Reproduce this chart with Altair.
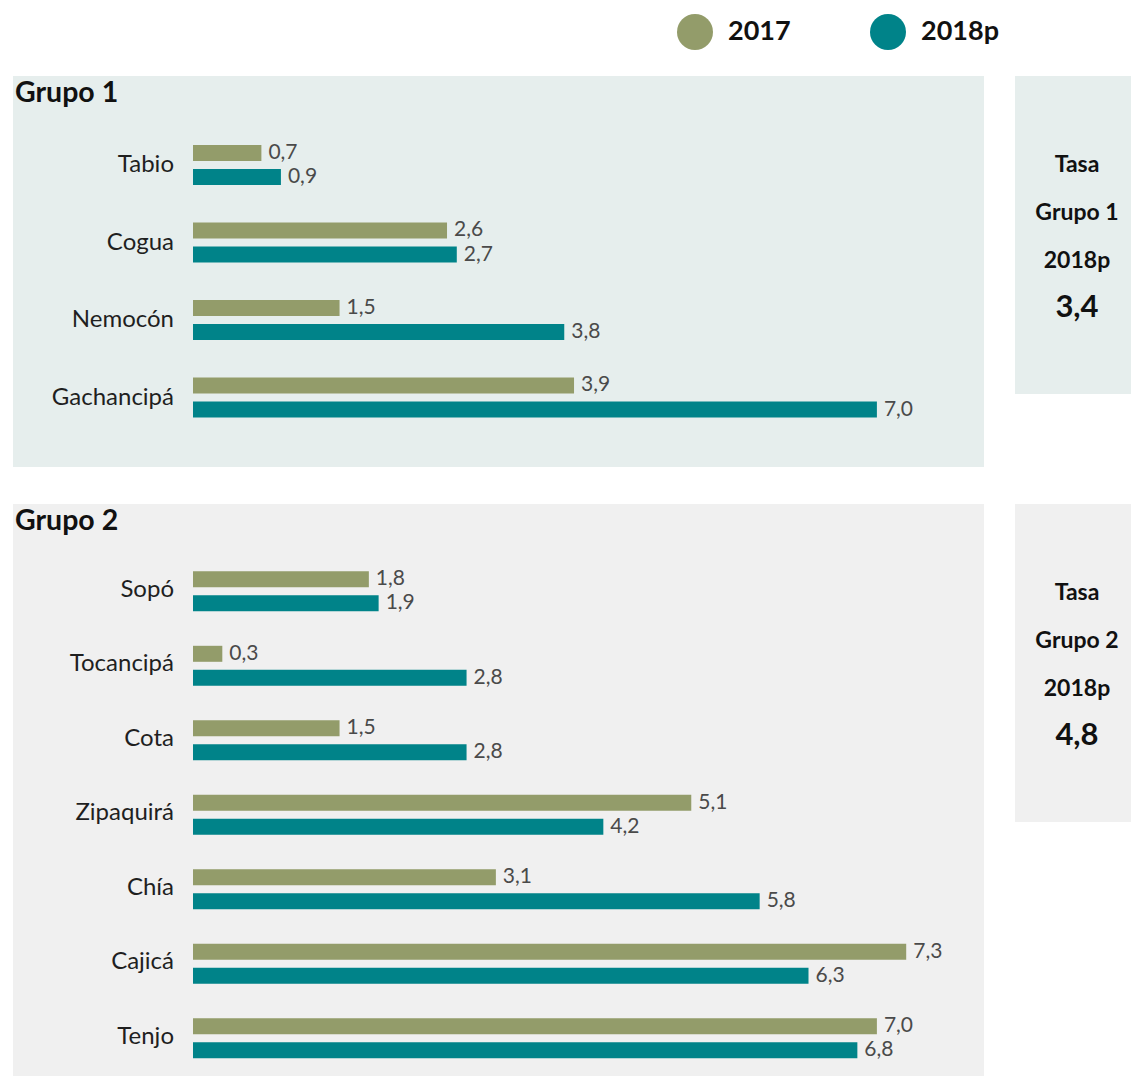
import altair as alt
import pandas as pd

FONT = "Lato"

years = ["2017", "2018p"]
year_colors = ["#939c6a", "#008389"]

g1_munis = ["Tabio", "Cogua", "Nemocón", "Gachancipá"]
g1_2017 = [0.7, 2.6, 1.5, 3.9]
g1_2018 = [0.9, 2.7, 3.8, 7.0]

g2_munis = ["Sopó", "Tocancipá", "Cota", "Zipaquirá", "Chía", "Cajicá", "Tenjo"]
g2_2017 = [1.8, 0.3, 1.5, 5.1, 3.1, 7.3, 7.0]
g2_2018 = [1.9, 2.8, 2.8, 4.2, 5.8, 6.3, 6.8]

group_titles = ["Grupo 1", "Grupo 2"]
tasa_2018 = [3.4, 4.8]


def fmt(v):
    return f"{v:.1f}".replace(".", ",")


def panel(munis, v17, v18, title, bg, height, y_range, off_pad):
    rows = []
    for m, a, b in zip(munis, v17, v18):
        rows.append({"Municipio": m, "Año": "2017", "Valor": a, "Etiqueta": fmt(a)})
        rows.append({"Municipio": m, "Año": "2018p", "Valor": b, "Etiqueta": fmt(b)})
    df = pd.DataFrame(rows)

    x = alt.X("Valor:Q", scale=alt.Scale(domain=[0, 8], range=[180, 180 + 8 * 97.7], nice=False), axis=None)
    y = alt.Y("Municipio:N", sort=munis,
              scale=alt.Scale(domain=munis, range=y_range, paddingInner=0, paddingOuter=0), axis=None)
    yoff = alt.YOffset("Año:N", sort=years,
                       scale=alt.Scale(domain=years, paddingInner=1 / 3, paddingOuter=off_pad))

    base = alt.Chart(df)
    bars = base.mark_bar().encode(
        x=x, y=y, yOffset=yoff,
        color=alt.Color("Año:N", scale=alt.Scale(domain=years, range=year_colors),
                        legend=alt.Legend(title=None, orient="none", legendX=664, legendY=-62,
                                          direction="horizontal", symbolType="circle",
                                          symbolSize=1296, symbolStrokeWidth=0, symbolOpacity=1,
                                          labelFont=FONT, labelFontSize=27, labelFontWeight="bold",
                                          labelColor="#111111", labelOffset=15, columnPadding=79,
                                          padding=0)),
    )
    labels = base.mark_text(align="left", baseline="middle", dx=7, font=FONT, fontSize=21,
                            color="#4a4a4a").encode(x=x, y=y, yOffset=yoff, text="Etiqueta:N")
    cats = alt.Chart(pd.DataFrame({"Municipio": munis})).mark_text(
        align="right", baseline="middle", font=FONT, fontSize=24, color="#1f1f1f"
    ).encode(y=y, x=alt.value(161), text="Municipio:N")
    ttl = alt.Chart(pd.DataFrame({"t": [title]})).mark_text(
        align="left", baseline="alphabetic", font=FONT, fontSize=28.5, fontWeight="bold", color="#111111"
    ).encode(text="t:N", x=alt.value(2), y=alt.value(26))
    return alt.layer(bars, labels, cats, ttl).properties(
        width=971, height=height, view=alt.ViewBackground(fill=bg))


def box(title, tasa, bg):
    df = pd.DataFrame({"l1": ["Tasa"], "l2": [title], "l3": ["2018p"], "v": [fmt(tasa)]})
    base = alt.Chart(df)
    common = dict(align="center", baseline="alphabetic", font=FONT, fontWeight="bold", color="#111111")
    layers = [
        base.mark_text(fontSize=23, **common).encode(text="l1:N", x=alt.value(62), y=alt.value(96)),
        base.mark_text(fontSize=23, **common).encode(text="l2:N", x=alt.value(62), y=alt.value(144)),
        base.mark_text(fontSize=23, **common).encode(text="l3:N", x=alt.value(62), y=alt.value(192)),
        base.mark_text(fontSize=31, **common).encode(text="v:N", x=alt.value(62), y=alt.value(241)),
    ]
    return alt.layer(*layers).properties(width=116, height=318, view=alt.ViewBackground(fill=bg))


BG1 = "#e6eeed"
BG2 = "#f0f0f0"

p1 = panel(g1_munis, g1_2017, g1_2018, group_titles[0], BG1, 391, [50.25, 360.25], 0.781)
p2 = panel(g2_munis, g2_2017, g2_2018, group_titles[1], BG2, 572, [48.55, 570.05], 0.719)
b1 = box(group_titles[0], tasa_2018[0], BG1)
b2 = box(group_titles[1], tasa_2018[1], BG2)

chart = alt.vconcat(
    alt.hconcat(p1, b1, spacing=31),
    alt.hconcat(p2, b2, spacing=31),
    spacing=37,
).properties(
    padding={"left": 5, "top": 6, "right": 0, "bottom": 0}
).configure_view(strokeWidth=0)

chart.save("out.html", embed_options={"renderer": "svg", "actions": False})
